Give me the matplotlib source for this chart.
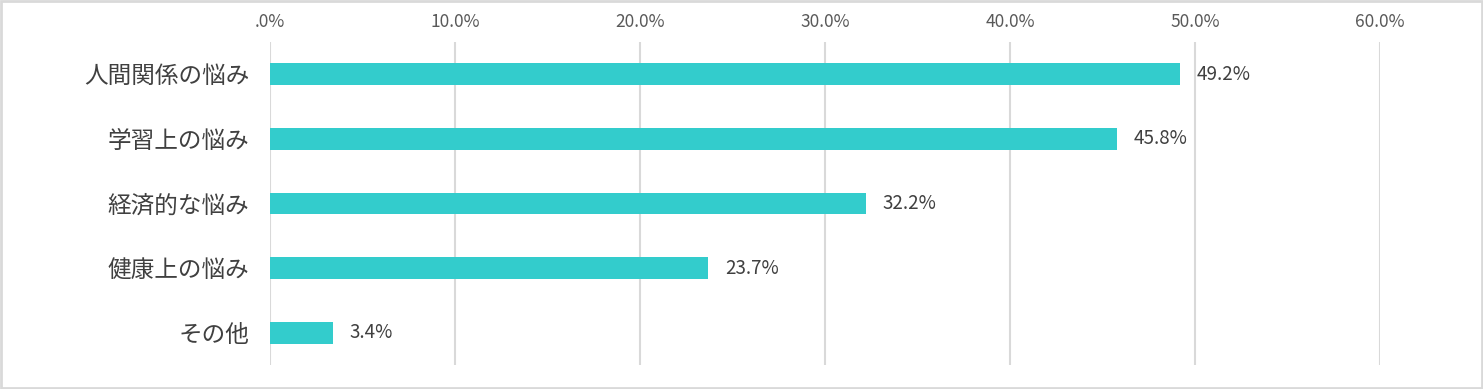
import matplotlib.pyplot as plt
from matplotlib.patches import Rectangle

plt.rcParams['font.family'] = ['Noto Sans CJK JP', 'DejaVu Sans']

categories = ['人間関係の悩み', '学習上の悩み', '経済的な悩み', '健康上の悩み', 'その他']
values = [49.2, 45.8, 32.2, 23.7, 3.4]
ticks = [0, 10, 20, 30, 40, 50, 60]
tick_labels = ['.0%', '10.0%', '20.0%', '30.0%', '40.0%', '50.0%', '60.0%']

fig = plt.figure(figsize=(14.83, 3.89), dpi=100)
ax = fig.add_axes([270 / 1483, 24 / 389, 1110 / 1483, 323 / 389])

# light border round the whole picture
fig.patches.append(Rectangle((0.001, 0.002), 0.998, 0.995, transform=fig.transFigure,
                             fill=False, edgecolor='#D9D9D9', linewidth=2))

ypos = list(range(len(categories)))
ax.barh(ypos, values, height=0.34, color='#33CCCC', zorder=3)

for y, v in zip(ypos, values):
    ax.text(v + 0.9, y, f'{v:.1f}%', va='center', ha='left', fontsize=13.5, color='#404040')

ax.set_xlim(0, 60)
ax.set_ylim(4.5, -0.5)
ax.set_xticks(ticks)
ax.set_xticklabels(tick_labels, fontsize=12.5, color='#595959')
ax.xaxis.tick_top()
ax.tick_params(axis='x', length=0, pad=8)
ax.set_yticks(ypos)
ax.set_yticklabels(categories, fontsize=17, color='#404040')
ax.tick_params(axis='y', length=0, pad=15)
ax.grid(axis='x', color='#D9D9D9', linewidth=1.5, zorder=0)
for s in ax.spines.values():
    s.set_visible(False)

fig.savefig('out.png', dpi=100)
